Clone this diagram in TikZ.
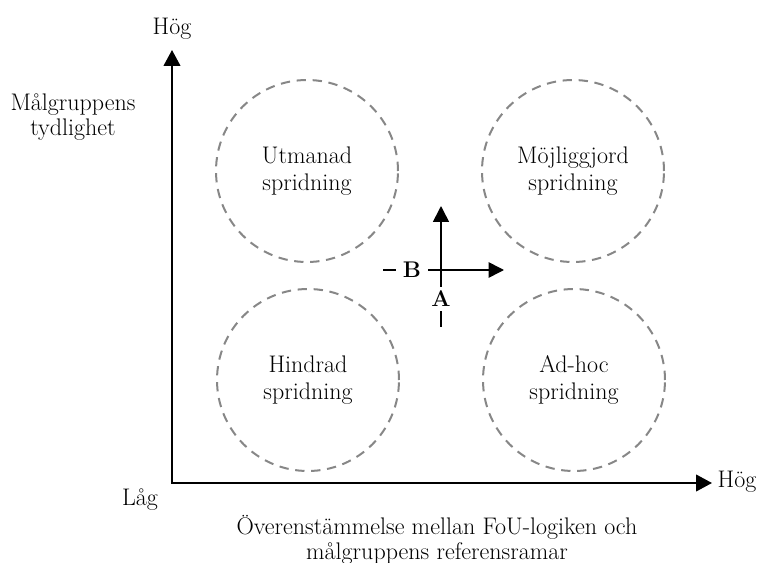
\documentclass[tikz,border=0pt]{standalone}
\usepackage{fontspec}
\usetikzlibrary{arrows.meta}
\definecolor{dashgray}{RGB}{135,135,135}
\tikzset{
  lbl/.style={font=\fontsize{18pt}{19pt}\selectfont, align=center, inner sep=0pt},
  quad/.style={circle, draw=dashgray, line width=1.5pt, dash pattern=on 7pt off 5pt,
    minimum size=136.5pt, inner sep=0pt, align=center, font=\fontsize{18pt}{20pt}\selectfont},
  axis/.style={line width=1.6pt, line join=miter},
  crossline/.style={line width=1.2pt},
  crosslbl/.style={font=\fontsize{17pt}{18pt}\selectfont\bfseries, inner xsep=5pt, inner ysep=3pt}
}
\begin{document}
\begin{tikzpicture}[x=0.75pt,y=-0.75pt]
\useasboundingbox (0,0) rectangle (758,563);
% axes
\coordinate (O) at (172,483);
\coordinate (ytip) at (172,50);
\coordinate (xtip) at (712,483);
\draw[axis, {Triangle[length=12pt,width=12.5pt]}-{Triangle[length=12pt,width=12.5pt]}] (ytip) -- (O) -- (xtip);
% axis labels
\node[lbl] (yhigh) at (172,29) {Hög};
\node[lbl] (xhigh) at (737,482) {Hög};
\node[lbl] (low) at (140,500) {Låg};
\node[lbl] (ytitle) at (73,117) {Målgruppens\\tydlighet};
\node[lbl] (xtitle) at (437,540) {Överenstämmelse mellan FoU-logiken och\\målgruppens referensramar};
% quadrants
\node[quad] (ul) at (307,171) {Utmanad\\spridning};
\node[quad] (ur) at (573,171) {Möjliggjord\\spridning};
\node[quad] (ll) at (308,380) {Hindrad\\spridning};
\node[quad] (lr) at (574,380) {Ad-hoc\\spridning};
% cross
\node[crosslbl] (B) at (412,270) {B};
\node[crosslbl] (A) at (441,299) {A};
\coordinate (hs) at (383,270);
\coordinate (he) at (504,270);
\coordinate (vt) at (441,206);
\coordinate (vb) at (441,327);
\draw[crossline] (hs) -- (B);
\draw[crossline, -{Triangle[length=11.5pt,width=11.5pt]}] (B) -- (he);
\draw[crossline, -{Triangle[length=12pt,width=12pt]}] (A) -- (vt);
\draw[crossline] (A) -- (vb);
\end{tikzpicture}
\end{document}
